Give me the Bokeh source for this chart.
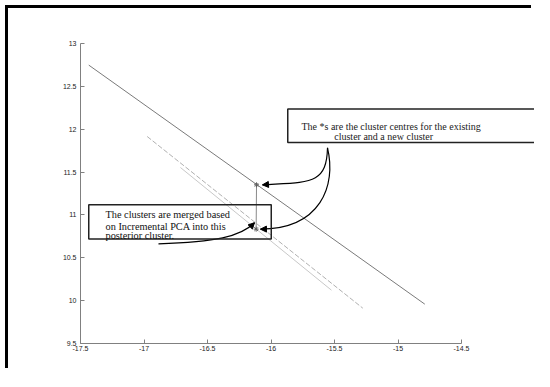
from bokeh.plotting import figure
from bokeh.models import (Range1d, FixedTicker, BoxAnnotation, Label, Arrow,
                          NormalHead)
from bokeh.embed import file_html
from bokeh.resources import INLINE

# ---- data ----
x_ticks = [-17.5, -17.0, -16.5, -16.0, -15.5, -15.0, -14.5]
x_tick_labels = ["-17.5", "-17", "-16.5", "-16", "-15.5", "-15", "-14.5"]
y_ticks = [9.5, 10.0, 10.5, 11.0, 11.5, 12.0, 12.5, 13.0]
y_tick_labels = ["9.5", "10", "10.5", "11", "11.5", "12", "12.5", "13"]

existing_x = [-17.435, -14.789]
existing_y = [12.748, 9.959]
new_x = [-16.975, -15.277]
new_y = [11.915, 9.912]
merged_x = [-16.713, -15.524]
merged_y = [11.553, 10.122]

centre_x = [-16.114, -16.117]
centre_y = [11.351, 10.834]

note1 = ["The *s are the cluster centres for the existing",
         "cluster and a new cluster"]
note2 = ["The clusters are merged based",
         "on Incremental PCA into this",
         "posterior cluster."]

# ---- figure ----
W, H = 526, 363
ML, MT, MB = 72, 35, 28
frame_w = W - ML
px_per_x = 127.0
p = figure(width=W, height=H,
           x_range=Range1d(-17.5, -17.5 + frame_w / px_per_x),
           y_range=Range1d(9.5, 13.0),
           output_backend="svg", toolbar_location=None,
           min_border_left=ML, min_border_right=0,
           min_border_top=MT, min_border_bottom=MB)
p.styles = {"position": "relative", "left": "8px", "top": "8px",
            "box-shadow": "-3px -3px 0px 0px black"}
p.outline_line_color = None
p.xgrid.visible = False
p.ygrid.visible = False
p.background_fill_color = "white"
p.border_fill_color = "white"

for ax, ticks, labels in ((p.xaxis[0], x_ticks, x_tick_labels),
                          (p.yaxis[0], y_ticks, y_tick_labels)):
    ax.ticker = FixedTicker(ticks=ticks)
    ax.major_label_overrides = {t: l for t, l in zip(ticks, labels)}
    ax.bounds = (ticks[0], ticks[-1])
    ax.axis_line_color = "#808080"
    ax.major_tick_line_color = "#808080"
    ax.major_tick_in = 4
    ax.major_tick_out = 0
    ax.minor_tick_line_color = None
    ax.major_label_text_font = "Liberation Sans"
    ax.major_label_text_font_size = "7px"
    ax.major_label_text_color = "#222222"
p.xaxis.major_label_standoff = 2
p.yaxis.major_label_standoff = 4

p.line(existing_x, existing_y, line_color="#7a7a7a", line_width=1)
p.line(new_x, new_y, line_color="#b0b0b0", line_width=1, line_dash="5 2")
p.line(merged_x, merged_y, line_color="#c8c8c8", line_width=1)
p.line(centre_x, centre_y, line_color="#8a8a8a", line_width=1)
p.scatter(centre_x, centre_y, marker="asterisk", size=5,
          line_color="#606060", line_width=1)

# ---- annotation boxes ----
p.add_layout(BoxAnnotation(left=-15.868, right=-13.852, top=12.235, bottom=11.845,
                           fill_alpha=0, line_color="#222222", line_width=1.5,
                           line_alpha=1))
p.add_layout(BoxAnnotation(left=-17.435, right=-15.998, top=11.118, bottom=10.718,
                           fill_alpha=0, line_color="#222222", line_width=1.5,
                           line_alpha=1))

for txt, x, y in zip(note1, [-15.760, -15.502], [12.035, 11.918]):
    p.add_layout(Label(x=x, y=y, text=txt, text_font="Liberation Serif",
                       text_font_size="10px", text_color="#222222",
                       text_baseline="alphabetic"))
for txt, y in zip(note2, [11.001, 10.868, 10.762]):
    p.add_layout(Label(x=-17.303, y=y, text=txt, text_font="Liberation Serif",
                       text_font_size="10.3px", text_color="#111111",
                       text_baseline="alphabetic"))

# ---- curved arrows (x0, y0, cx0, cy0, cx1, cy1, x1, y1) ----
curves = [
    (-15.555, 11.783, -15.563, 11.351, -15.689, 11.386, -16.067, 11.351),
    (-15.555, 11.783, -15.484, 11.340, -15.610, 10.838, -16.083, 10.834),
    (-16.886, 10.663, -16.437, 10.686, -16.240, 10.745, -16.130, 10.909),
]
for x0, y0, cx0, cy0, cx1, cy1, x1, y1 in curves:
    p.bezier(x0=x0, y0=y0, cx0=cx0, cy0=cy0, cx1=cx1, cy1=cy1, x1=x1, y1=y1,
             line_color="black", line_width=1.2)
    p.add_layout(Arrow(end=NormalHead(size=6, fill_color="black",
                                      line_color="black", line_width=1),
                       x_start=cx1, y_start=cy1, x_end=x1, y_end=y1,
                       line_alpha=0))

open("out.html", "w").write(file_html(p, INLINE))
